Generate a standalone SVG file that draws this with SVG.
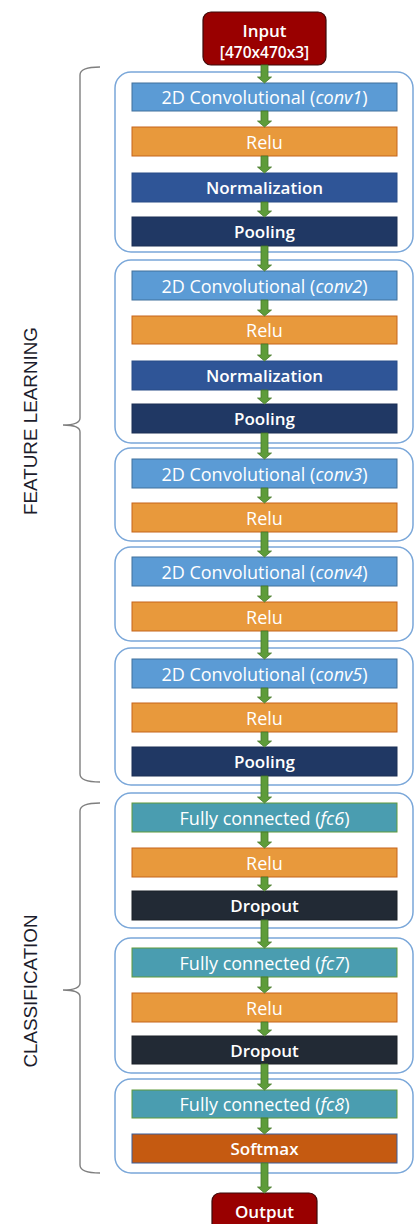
<svg xmlns="http://www.w3.org/2000/svg" width="419" height="1224" viewBox="0 0 419 1224">
<defs>
<style>
.cont{fill:#ffffff;stroke:#7aa7d9;stroke-width:1.5}
.lay{stroke-width:1}
.conv{fill:#5b9bd5;stroke:#41719c}
.relu{fill:#e8993c;stroke:#c5651a}
.norm{fill:#2f5597;stroke:#294c87}
.pool{fill:#203864;stroke:#1a2f55}
.fc{fill:#4a9db0;stroke:#5f9a3c}
.drop{fill:#222a35;stroke:#1a2029}
.soft{fill:#c55a11;stroke:#3b5d99}
.io{fill:#990000;stroke:#3d0a0a;stroke-width:1.2}
.t{font-family:"Open Sans","Liberation Sans",sans-serif;font-size:18px;fill:#ffffff;text-anchor:middle;dominant-baseline:central}
.b{font-weight:600;font-size:17px}
.arr{fill:#5e9c3a;stroke:#46782b;stroke-width:0.8}
.brace{fill:none;stroke:#7f7f7f;stroke-width:1.4}
.lbl{font-family:"Liberation Sans",Arial,sans-serif;font-size:18px;fill:#1c1c2c;text-anchor:middle;dominant-baseline:central}
</style>
</defs>

<g id="braces">
<path class="brace" d="M100,67 Q80,67 80,75 L80,418 Q80,425 63,425 Q80,425 80,432 L80,774 Q80,782 100,782"/>
<path class="brace" d="M100,803 Q80,803 80,811 L80,983 Q80,990 63,990 Q80,990 80,997 L80,1165 Q80,1173 100,1173"/>
<text class="lbl" transform="translate(31,421) rotate(-90)" textLength="188" lengthAdjust="spacingAndGlyphs">FEATURE LEARNING</text>
<text class="lbl" transform="translate(31,991) rotate(-90)" textLength="153" lengthAdjust="spacingAndGlyphs">CLASSIFICATION</text>
</g>

<g id="containers">
<rect id="block1" class="cont" x="115" y="72" width="298" height="180" rx="16"/>
<rect id="block2" class="cont" x="115" y="260" width="298" height="183" rx="16"/>
<rect id="block3" class="cont" x="115" y="448" width="298" height="93" rx="16"/>
<rect id="block4" class="cont" x="115" y="547" width="298" height="94" rx="16"/>
<rect id="block5" class="cont" x="115" y="648" width="298" height="137" rx="16"/>
<rect id="block6" class="cont" x="115" y="793" width="298" height="135" rx="16"/>
<rect id="block7" class="cont" x="115" y="938" width="298" height="135" rx="16"/>
<rect id="block8" class="cont" x="115" y="1079" width="298" height="94" rx="16"/>
</g>

<g id="input">
<rect class="io" x="203" y="12" width="123" height="53" rx="8"/>
<text class="t b" x="264.5" y="30">Input</text>
<text class="t b" x="264.5" y="52" style="font-size:15.5px">[470x470x3]</text>
</g>

<g id="conv1"><rect class="lay conv" x="132" y="83" width="265" height="28"/><text class="t" x="264.5" y="97">2D Convolutional (<tspan font-style="italic">conv1</tspan>)</text></g>
<g id="relu1"><rect class="lay relu" x="132" y="127" width="265" height="29"/><text class="t" x="264.5" y="141.5">Relu</text></g>
<g id="norm1"><rect class="lay norm" x="132" y="173" width="265" height="29"/><text class="t b" x="264.5" y="187.5">Normalization</text></g>
<g id="pool1"><rect class="lay pool" x="132" y="217" width="265" height="29"/><text class="t b" x="264.5" y="231.5">Pooling</text></g>

<g id="conv2"><rect class="lay conv" x="132" y="271" width="265" height="29"/><text class="t" x="264.5" y="285.5">2D Convolutional (<tspan font-style="italic">conv2</tspan>)</text></g>
<g id="relu2"><rect class="lay relu" x="132" y="316" width="265" height="28"/><text class="t" x="264.5" y="330">Relu</text></g>
<g id="norm2"><rect class="lay norm" x="132" y="361" width="265" height="29"/><text class="t b" x="264.5" y="375.5">Normalization</text></g>
<g id="pool2"><rect class="lay pool" x="132" y="404" width="265" height="29"/><text class="t b" x="264.5" y="418.5">Pooling</text></g>

<g id="conv3"><rect class="lay conv" x="132" y="459" width="265" height="29"/><text class="t" x="264.5" y="473.5">2D Convolutional (<tspan font-style="italic">conv3</tspan>)</text></g>
<g id="relu3"><rect class="lay relu" x="132" y="503" width="265" height="29"/><text class="t" x="264.5" y="517.5">Relu</text></g>

<g id="conv4"><rect class="lay conv" x="132" y="557" width="265" height="29"/><text class="t" x="264.5" y="571.5">2D Convolutional (<tspan font-style="italic">conv4</tspan>)</text></g>
<g id="relu4"><rect class="lay relu" x="132" y="602" width="265" height="29"/><text class="t" x="264.5" y="616.5">Relu</text></g>

<g id="conv5"><rect class="lay conv" x="132" y="659" width="265" height="29"/><text class="t" x="264.5" y="673.5">2D Convolutional (<tspan font-style="italic">conv5</tspan>)</text></g>
<g id="relu5"><rect class="lay relu" x="132" y="703" width="265" height="29"/><text class="t" x="264.5" y="717.5">Relu</text></g>
<g id="pool5"><rect class="lay pool" x="132" y="747" width="265" height="29"/><text class="t b" x="264.5" y="761.5">Pooling</text></g>

<g id="fc6"><rect class="lay fc" x="132" y="803" width="265" height="29"/><text class="t" x="264.5" y="817.5">Fully connected (<tspan font-style="italic">fc6</tspan>)</text></g>
<g id="relu6"><rect class="lay relu" x="132" y="848" width="265" height="29"/><text class="t" x="264.5" y="862.5">Relu</text></g>
<g id="drop6"><rect class="lay drop" x="132" y="891" width="265" height="29"/><text class="t b" x="264.5" y="905.5">Dropout</text></g>

<g id="fc7"><rect class="lay fc" x="132" y="948" width="265" height="29"/><text class="t" x="264.5" y="962.5">Fully connected (<tspan font-style="italic">fc7</tspan>)</text></g>
<g id="relu7"><rect class="lay relu" x="132" y="993" width="265" height="29"/><text class="t" x="264.5" y="1007.5">Relu</text></g>
<g id="drop7"><rect class="lay drop" x="132" y="1036" width="265" height="28"/><text class="t b" x="264.5" y="1050">Dropout</text></g>

<g id="fc8"><rect class="lay fc" x="132" y="1090" width="265" height="28"/><text class="t" x="264.5" y="1104">Fully connected (<tspan font-style="italic">fc8</tspan>)</text></g>
<g id="softmax"><rect class="lay soft" x="132" y="1134" width="265" height="29"/><text class="t b" x="264.5" y="1148.5">Softmax</text></g>

<g id="output">
<rect class="io" x="212" y="1193" width="105" height="45" rx="8"/>
<text class="t b" x="264.5" y="1211">Output</text>
</g>

<g id="connectors">
<path class="arr" d="M261,65 H268 V77 H271.5 L264.5,83 L257.5,77 H261 Z"/>
<path class="arr" d="M261,111 H268 V121 H271.5 L264.5,127 L257.5,121 H261 Z"/>
<path class="arr" d="M261,156 H268 V167 H271.5 L264.5,173 L257.5,167 H261 Z"/>
<path class="arr" d="M261,202 H268 V211 H271.5 L264.5,217 L257.5,211 H261 Z"/>
<path class="arr" d="M261,246 H268 V265 H271.5 L264.5,271 L257.5,265 H261 Z"/>
<path class="arr" d="M261,300 H268 V310 H271.5 L264.5,316 L257.5,310 H261 Z"/>
<path class="arr" d="M261,344 H268 V355 H271.5 L264.5,361 L257.5,355 H261 Z"/>
<path class="arr" d="M261,390 H268 V398 H271.5 L264.5,404 L257.5,398 H261 Z"/>
<path class="arr" d="M261,433 H268 V453 H271.5 L264.5,459 L257.5,453 H261 Z"/>
<path class="arr" d="M261,488 H268 V497 H271.5 L264.5,503 L257.5,497 H261 Z"/>
<path class="arr" d="M261,532 H268 V551 H271.5 L264.5,557 L257.5,551 H261 Z"/>
<path class="arr" d="M261,586 H268 V596 H271.5 L264.5,602 L257.5,596 H261 Z"/>
<path class="arr" d="M261,631 H268 V653 H271.5 L264.5,659 L257.5,653 H261 Z"/>
<path class="arr" d="M261,688 H268 V697 H271.5 L264.5,703 L257.5,697 H261 Z"/>
<path class="arr" d="M261,732 H268 V741 H271.5 L264.5,747 L257.5,741 H261 Z"/>
<path class="arr" d="M261,776 H268 V797 H271.5 L264.5,803 L257.5,797 H261 Z"/>
<path class="arr" d="M261,832 H268 V842 H271.5 L264.5,848 L257.5,842 H261 Z"/>
<path class="arr" d="M261,877 H268 V885 H271.5 L264.5,891 L257.5,885 H261 Z"/>
<path class="arr" d="M261,920 H268 V942 H271.5 L264.5,948 L257.5,942 H261 Z"/>
<path class="arr" d="M261,977 H268 V987 H271.5 L264.5,993 L257.5,987 H261 Z"/>
<path class="arr" d="M261,1022 H268 V1030 H271.5 L264.5,1036 L257.5,1030 H261 Z"/>
<path class="arr" d="M261,1064 H268 V1084 H271.5 L264.5,1090 L257.5,1084 H261 Z"/>
<path class="arr" d="M261,1118 H268 V1128 H271.5 L264.5,1134 L257.5,1128 H261 Z"/>
<path class="arr" d="M261,1163 H268 V1187 H271.5 L264.5,1193 L257.5,1187 H261 Z"/>
</g>
</svg>
